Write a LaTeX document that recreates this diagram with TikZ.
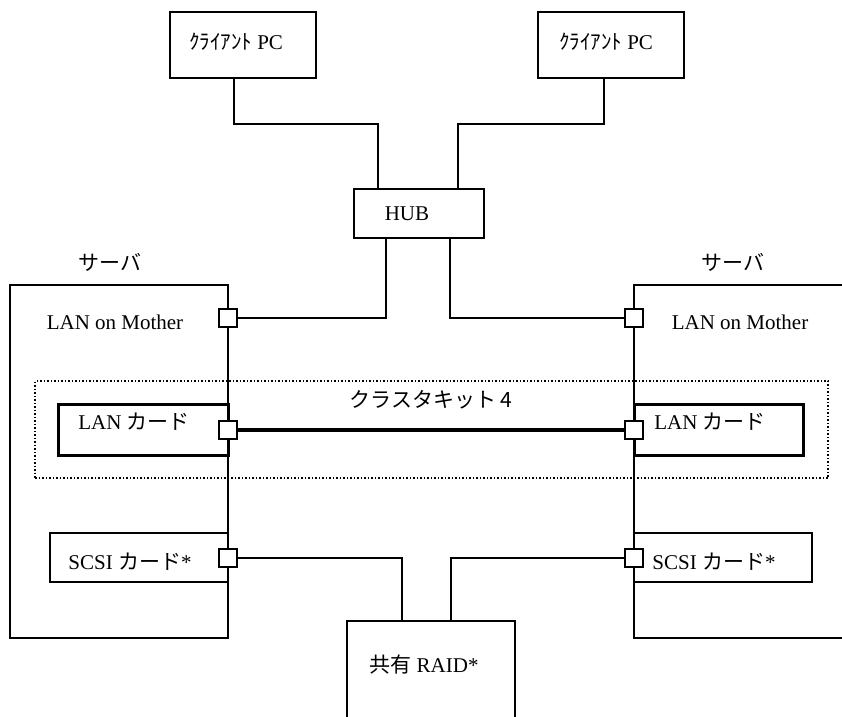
\documentclass[tikz,border=0pt]{standalone}
\usepackage{fontspec}
\setmainfont{Liberation Serif}
\newfontfamily\jp{Noto Sans CJK JP}
\begin{document}
\begin{tikzpicture}[x=1pt,y=-1pt,
  every node/.style={inner sep=0pt, outer sep=0pt},
  box/.style={draw, line width=1.3pt, rectangle},
  cardbox/.style={draw, line width=3pt, rectangle},
  port/.style={draw, line width=1.3pt, fill=white, minimum size=18pt},
  lbl/.style={font=\fontsize{21}{24}\selectfont, anchor=center},
  wire/.style={line width=1.3pt},
  link/.style={line width=4pt}]
\useasboundingbox (0,0) rectangle (842,716);
\clip (0,0) rectangle (842,716);

% servers
\node[box, minimum width=218, minimum height=353] (srvL) at (119,461.5) {};
\node[box, minimum width=230, minimum height=353] (srvR) at (749,461.5) {};
\node[lbl] (srvLt) at (110,262) {\jp サーバ};
\node[lbl] (srvRt) at (733,262) {\jp サーバ};
\node[lbl] (lomL) at (115,322) {LAN on Mother};
\node[lbl] (lomR) at (740,322) {LAN on Mother};

% cluster kit frame
\node[draw, dotted, line width=1.5pt, minimum width=793, minimum height=97] (kit) at (431.5,429.5) {};
\node[lbl] (kitt) at (431,400) {\jp クラスタキット 4};

% cards
\node[cardbox, minimum width=170, minimum height=51] (lanL) at (143,429.5) {};
\node[cardbox, minimum width=169, minimum height=51] (lanR) at (718.5,429.5) {};
\node[lbl] (lanLt) at (134,422) {LAN {\jp カード}};
\node[lbl] (lanRt) at (710,422) {LAN {\jp カード}};
\node[box, minimum width=178, minimum height=49] (scsiL) at (139,557.5) {};
\node[box, minimum width=178, minimum height=49] (scsiR) at (723,557.5) {};
\node[lbl] (scsiLt) at (130,562) {SCSI {\jp カード}*};
\node[lbl] (scsiRt) at (714,562) {SCSI {\jp カード}*};

% clients, hub, storage
\node[box, minimum width=146, minimum height=66] (pcL) at (243,45) {};
\node[box, minimum width=146, minimum height=66] (pcR) at (611,45) {};
\node[lbl] (pcLt) at (236,42) {{\jp ｸﾗｲｱﾝﾄ} PC};
\node[lbl] (pcRt) at (606,42) {{\jp ｸﾗｲｱﾝﾄ} PC};
\node[box, minimum width=130, minimum height=49] (hub) at (419,213.5) {};
\node[lbl] (hubt) at (407,214) {HUB};
\node[box, minimum width=168, minimum height=139] (raid) at (431,690.5) {};
\node[lbl] (raidt) at (424,665) {{\jp 共有} RAID*};

% ports on the server edges
\node[port] (pLM) at (228,318) {};
\node[port] (pLL) at (228,430) {};
\node[port] (pLS) at (228,558) {};
\node[port] (pRM) at (634,318) {};
\node[port] (pRL) at (634,430) {};
\node[port] (pRS) at (634,558) {};

% wiring
\draw[wire] ([xshift=-9pt]pcL.south) -- ++(0,46) -| ([xshift=-41pt]hub.north);
\draw[wire] ([xshift=-7pt]pcR.south) -- ++(0,46) -| ([xshift=39pt]hub.north);
\draw[wire] ([xshift=-33pt]hub.south) |- (pLM.east);
\draw[wire] ([xshift=31pt]hub.south) |- (pRM.west);
\draw[link] (pLL.east) -- (pRL.west);
\draw[wire] (pLS.east) -| ([xshift=-29pt]raid.north);
\draw[wire] (pRS.west) -| ([xshift=20pt]raid.north);
\end{tikzpicture}
\end{document}
